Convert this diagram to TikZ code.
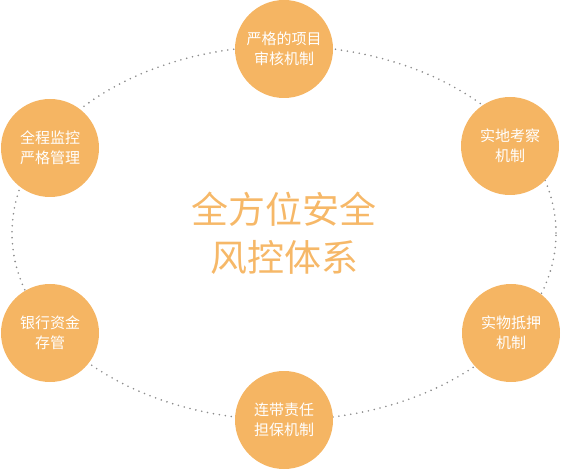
\documentclass[tikz,border=0pt]{standalone}
\usepackage{fontspec}
\setmainfont{Noto Sans CJK SC}
\usetikzlibrary{calc}

\definecolor{ballorange}{HTML}{F5B563}
\definecolor{titleorange}{HTML}{F6B868}
\definecolor{dotgray}{HTML}{8C8C8C}

\tikzset{
  ball/.style={circle, fill=ballorange, minimum size=98pt, inner sep=0pt,
    text=white, align=center, font=\fontsize{15}{20}\selectfont},
  title/.style={text=titleorange, align=center, font=\fontsize{37}{48}\selectfont}
}

\begin{document}
\begin{tikzpicture}[line cap=round,line join=round,x=1pt,y=-1pt]
\useasboundingbox (0,0) rectangle (562,470);

\coordinate (O) at (284,233);

% dotted ring
\draw[dotgray, line width=1.8pt, dash pattern=on 0pt off 6pt] (O) ellipse[x radius=272pt, y radius=187pt];

\node[title] (center) at (O) {全方位安全\\风控体系};

\node[ball] (top) at (284,49) {严格的项目\\审核机制};
\node[ball] (rtop) at (510,146) {实地考察\\机制};
\node[ball] (rbot) at (511,333) {实物抵押\\机制};
\node[ball] (bot) at (284,420) {连带责任\\担保机制};
\node[ball] (lbot) at (50,333) {银行资金\\存管};
\node[ball] (ltop) at (50,148) {全程监控\\严格管理};
\end{tikzpicture}
\end{document}
